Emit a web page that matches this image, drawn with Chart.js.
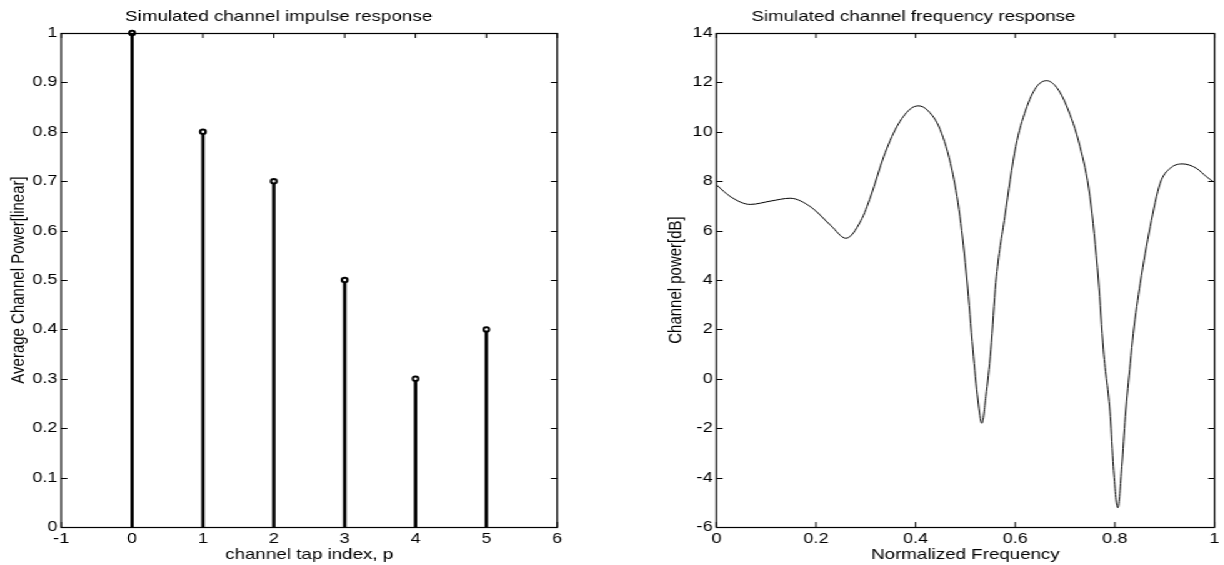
<!DOCTYPE html>
<html>
<head>
<meta charset="utf-8">
<script src="https://cdn.jsdelivr.net/npm/chart.js@4.4.0/dist/chart.umd.min.js"></script>
<style>
  html, body { margin: 0; padding: 0; background: #fff; overflow: hidden; }
  /* the source figure is stretched sideways, so draw narrow and widen */
  #wrap { position: relative; width: 979.2px; height: 565px; transform: scaleX(1.25); transform-origin: 0 0; }
  .box { position: absolute; top: 0; width: 489.6px; height: 565px; }
</style>
</head>
<body>
<div id="wrap">
  <div class="box" style="left:0"><canvas id="impulse"></canvas></div>
  <div class="box" style="left:489.6px"><canvas id="freq"></canvas></div>
</div>
<script>
// impulse response taps
var tapIndex = [0, 1, 2, 3, 4, 5];
var tapPower = [1, 0.8, 0.7, 0.5, 0.3, 0.4];

// frequency response
var freqX = [0.000, 0.030, 0.068, 0.110, 0.148, 0.190, 0.230, 0.260, 0.290, 0.310,
             0.336, 0.362, 0.389, 0.406, 0.425, 0.449, 0.473, 0.489, 0.503, 0.515,
             0.525, 0.533, 0.541, 0.551, 0.561, 0.579, 0.601, 0.621, 0.642, 0.663,
             0.683, 0.703, 0.730, 0.750, 0.767, 0.777, 0.791, 0.797, 0.806, 0.814,
             0.821, 0.831, 0.837, 0.851, 0.871, 0.891, 0.911, 0.936, 0.964, 0.984, 1.000];
var freqDb = [7.85, 7.35, 7.06, 7.20, 7.31, 6.95, 6.20, 5.69, 6.40, 7.40,
              9.00, 10.20, 10.92, 11.05, 10.85, 10.10, 8.45, 6.56, 4.00, 1.17,
              -0.86, -1.80, -0.72, 1.17, 3.90, 6.56, 9.40, 10.88, 11.80, 12.07,
              11.80, 11.05, 9.40, 7.37, 4.00, 1.17, -1.53, -3.56, -5.22, -3.56,
              -1.53, 0.63, 1.84, 3.87, 6.16, 7.92, 8.52, 8.70, 8.52, 8.18, 7.95];

var FONT = "'Liberation Sans', Arial, sans-serif";
Chart.defaults.font.family = FONT;
Chart.defaults.font.size = 14.5;
Chart.defaults.color = '#000';
var labelFont = { family: FONT, size: 15, weight: 'normal' };

// matlab style box with inward ticks
var matlabBox = {
    id: 'matlabBox',
    afterDraw: function (chart) {
        let ctx = chart.ctx;
        let a = chart.chartArea;
        let xs = chart.scales.x, ys = chart.scales.y;
        let tl = 5;
        ctx.save();
        ctx.strokeStyle = '#000';
        ctx.lineWidth = 1;
        ctx.beginPath();
        xs.ticks.forEach(function (t) {
            let px = xs.getPixelForValue(t.value);
            ctx.moveTo(px, a.bottom); ctx.lineTo(px, a.bottom - tl);
            ctx.moveTo(px, a.top); ctx.lineTo(px, a.top + tl);
        });
        ys.ticks.forEach(function (t) {
            let py = Math.round(ys.getPixelForValue(t.value)) + 0.5;
            ctx.moveTo(a.left, py); ctx.lineTo(a.left + tl, py);
            ctx.moveTo(a.right, py); ctx.lineTo(a.right - tl, py);
        });
        ctx.stroke();
        ctx.lineWidth = 1.2;
        ctx.strokeRect(a.left, Math.round(a.top) + 0.5, a.right - a.left, Math.round(a.bottom - a.top));
        ctx.restore();
    }
};

function axisWidth(w) { return function (s) { s.width = w; }; }
function axisHeight(h) { return function (s) { s.height = h; }; }
function plainNum(v) { return String(+v.toFixed(2)); }

function titleOpts(text) {
    return {
        display: true, text: text, color: '#000', font: labelFont,
        padding: { top: 8, bottom: 7 }
    };
}

new Chart(document.getElementById('impulse'), {
    type: 'bar',
    data: {
        datasets: [{
            type: 'scatter',
            data: tapIndex.map((x, i) => ({ x: x, y: tapPower[i] })),
            pointStyle: 'circle',
            pointRadius: 2.2,
            borderWidth: 2,
            borderColor: '#000',
            backgroundColor: '#fff',
            clip: false
        }, {
            type: 'bar',
            data: tapIndex.map((x, i) => ({ x: x, y: tapPower[i] })),
            backgroundColor: '#000',
            barThickness: 2
        }]
    },
    options: {
        responsive: true, maintainAspectRatio: false, animation: false,
        layout: { padding: { left: 0, right: 44.8, top: 0, bottom: 0 } },
        plugins: { legend: { display: false }, tooltip: { enabled: false }, title: titleOpts('Simulated channel impulse response') },
        scales: {
            x: {
                type: 'linear', min: -1, max: 6, offset: false,
                ticks: { stepSize: 1, padding: 3, maxRotation: 0, callback: plainNum },
                grid: { display: false, drawTicks: false }, border: { display: false },
                title: { display: true, text: 'channel tap index, p', font: labelFont, padding: { top: 0, bottom: 1 } },
                afterFit: axisHeight(38)
            },
            y: {
                min: 0, max: 1,
                ticks: { stepSize: 0.1, padding: 3, callback: plainNum },
                grid: { display: false, drawTicks: false }, border: { display: false },
                title: { display: true, text: 'Average Channel Power[linear]', font: labelFont, padding: { top: 5.7, bottom: 0 } },
                afterFit: axisWidth(48.8)
            }
        }
    },
    plugins: [matlabBox]
});

new Chart(document.getElementById('freq'), {
    type: 'line',
    data: {
        datasets: [{
            data: freqX.map((x, i) => ({ x: x, y: freqDb[i] })),
            borderColor: '#000',
            borderWidth: 1,
            pointRadius: 0,
            cubicInterpolationMode: 'monotone',
            fill: false
        }]
    },
    options: {
        responsive: true, maintainAspectRatio: false, animation: false,
        layout: { padding: { left: 0, right: 8, top: 0, bottom: 0 } },
        plugins: { legend: { display: false }, tooltip: { enabled: false }, title: titleOpts('Simulated channel frequency response') },
        scales: {
            x: {
                type: 'linear', min: 0, max: 1,
                ticks: { stepSize: 0.2, padding: 3, maxRotation: 0, callback: plainNum },
                grid: { display: false, drawTicks: false }, border: { display: false },
                title: { display: true, text: 'Normalized Frequency', font: labelFont, padding: { top: 0, bottom: 1 } },
                afterFit: axisHeight(38)
            },
            y: {
                min: -6, max: 14,
                ticks: { stepSize: 2, padding: 3, callback: plainNum },
                grid: { display: false, drawTicks: false }, border: { display: false },
                title: { display: true, text: 'Channel power[dB]', font: labelFont, padding: { top: 42, bottom: 0 } },
                afterFit: axisWidth(83.2)
            }
        }
    },
    plugins: [matlabBox]
});
</script>
</body>
</html>
